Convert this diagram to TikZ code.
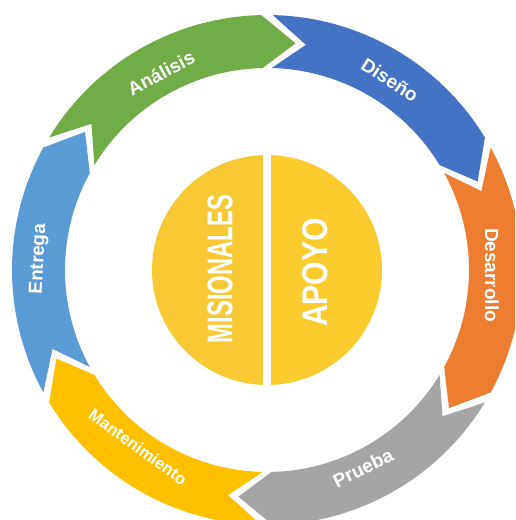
\documentclass[tikz,border=0pt]{standalone}
\usepackage{fontspec}
\setmainfont{Liberation Sans}
\usepackage{graphicx}
\definecolor{cAna}{HTML}{70AD47}
\definecolor{cDis}{HTML}{4472C4}
\definecolor{cDes}{HTML}{ED7D31}
\definecolor{cPru}{HTML}{A5A5A5}
\definecolor{cMan}{HTML}{FFC000}
\definecolor{cEnt}{HTML}{5B9BD5}
\definecolor{cMis}{HTML}{F6C935}
\definecolor{cApo}{HTML}{FCCC2E}
\newcommand\ringseg[3]{%
  \fill[#1] ({#2-\g}:\Ro) arc[start angle={#2-\g}, end angle={#3+\g}, radius=\Ro]
    -- ({#3+\g-\dl}:\Rm) -- ({#3+\g}:\Ri)
    arc[start angle={#3+\g}, end angle={#2-\g}, radius=\Ri]
    -- ({#2-\g-\dl}:\Rm) -- cycle;}
\begin{document}
\begin{tikzpicture}[x=1pt,y=1pt,
  lbl/.style={text=white,font=\bfseries\fontsize{19}{19}\selectfont,inner sep=0},
  lblsmall/.style={lbl,font=\bfseries\fontsize{16.5}{16.5}\selectfont},
  centertxt/.style={text=white,inner sep=0,rotate=90}]
\useasboundingbox (0,0) rectangle (515,520);
\clip (0,0) rectangle (515,520);
\fill[white] (0,0) rectangle (515,520);
\begin{scope}[shift={(267,250)}]
  \def\Ro{255}\def\Ri{202}\def\Rm{228.5}\def\dl{8.5}\def\g{1.3}
  \ringseg{cAna}{150}{90}
  \ringseg{cDis}{90}{30}
  \ringseg{cDes}{30}{-30}
  \ringseg{cPru}{-30}{-90}
  \ringseg{cMan}{-90}{-150}
  \ringseg{cEnt}{210}{150}
  \begin{scope}
    \clip (0,0) circle (115);
    \fill[cMis] (-120,-120) rectangle (-4,120);
    \fill[cApo] (4,-120) rectangle (120,120);
  \end{scope}
  \node[centertxt] (mis) at (-47,1) {\resizebox{148pt}{25pt}{\bfseries MISIONALES}};
  \node[centertxt] (apo) at (48,-2.5) {\resizebox{109pt}{25pt}{\bfseries APOYO}};
  \node[lbl,rotate=28] (ana) at (-106,197) {Análisis};
  \node[lbl,rotate=-33] (dis) at (123,190) {Diseño};
  \node[lbl,rotate=-90] (des) at (225,-5) {Desarrollo};
  \node[lbl,rotate=26] (pru) at (96,-198) {Prueba};
  \node[lblsmall,rotate=-36] (man) at (-129,-177) {Mantenimiento};
  \node[lbl,rotate=87] (ent) at (-228,11) {Entrega};
\end{scope}
\end{tikzpicture}
\end{document}
